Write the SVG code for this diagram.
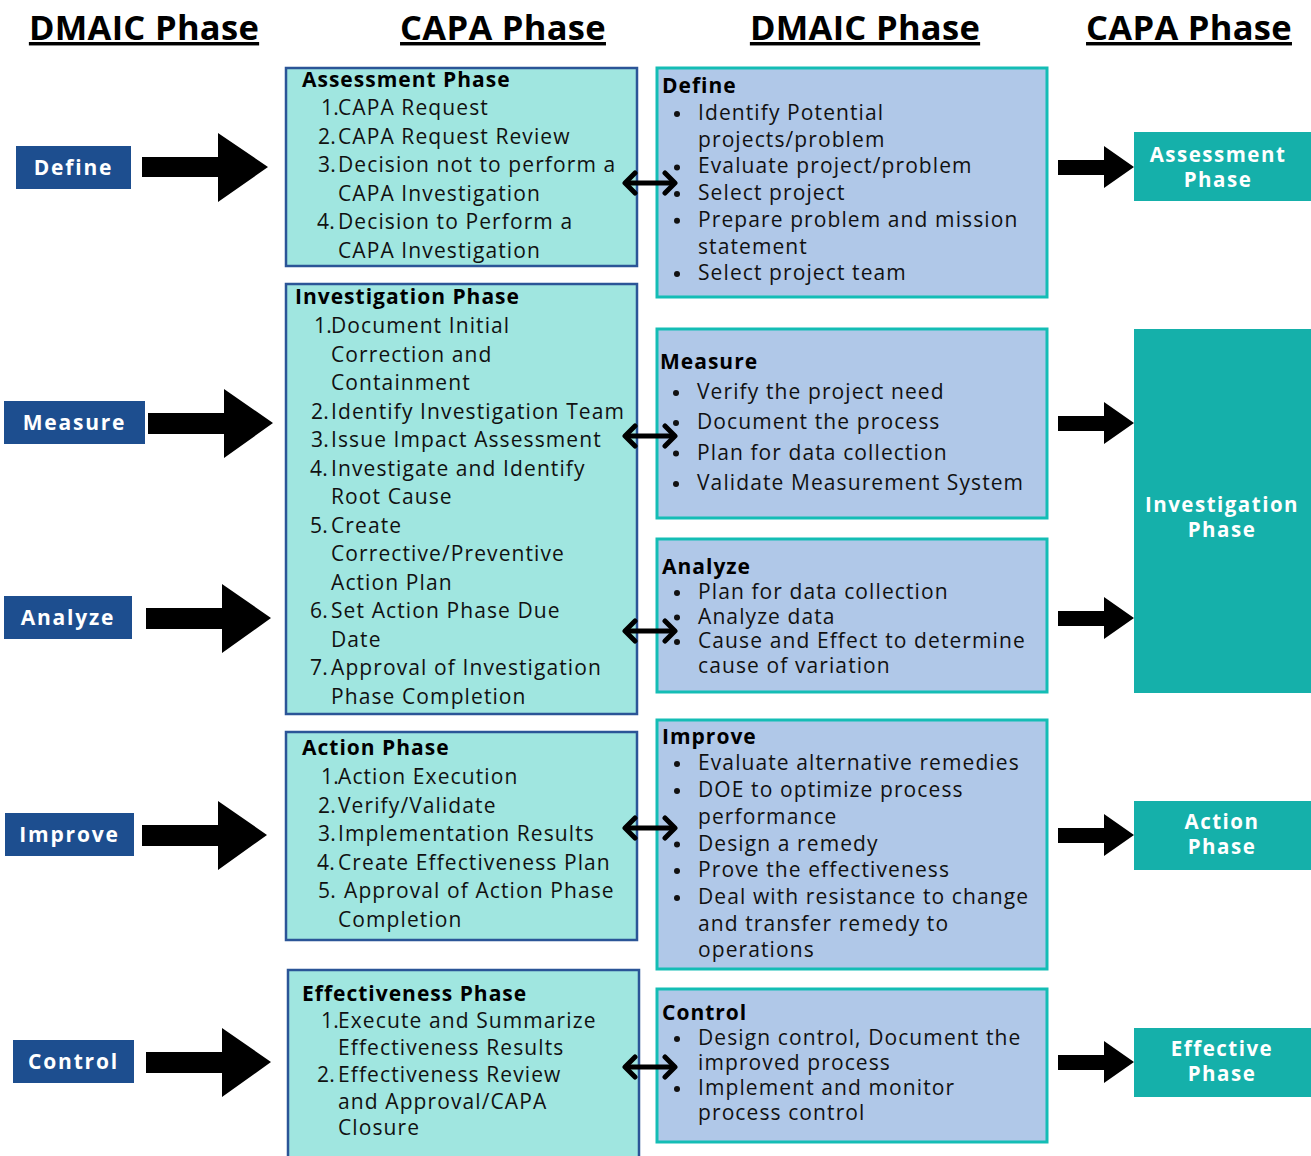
<svg xmlns="http://www.w3.org/2000/svg" width="1311" height="1156" viewBox="0 0 1311 1156">
<defs>
<style>
text{font-family:"Open Sans","Noto Sans","Liberation Sans",sans-serif;}
.hdr{font-size:34.5px;font-weight:bold;fill:#000;text-decoration:underline;text-anchor:middle;letter-spacing:0.3px;}
.lbl{fill:#1d4e8f;}
.lbltx{font-size:21px;font-weight:bold;fill:#fff;text-anchor:middle;letter-spacing:1.8px;}
.capa{fill:#a0e6e0;stroke:#2b5597;stroke-width:2.5;}
.dmaic{fill:#b0c8e8;stroke:#14bdb5;stroke-width:3;}
.out{fill:#15b0aa;}
.outtx{font-size:20.5px;font-weight:bold;fill:#fff;text-anchor:middle;letter-spacing:1.5px;}
.body{font-size:21px;fill:#111;letter-spacing:1.1px;}
.num{font-size:21px;fill:#111;letter-spacing:0.3px;}
.ttl{font-size:21px;font-weight:bold;fill:#000;letter-spacing:1px;}
.bul{fill:#111;}
.big{fill:#000;}
.dbl{stroke:#000;stroke-width:5;fill:none;marker-start:url(#chev);marker-end:url(#chev);}
</style>
<marker id="chev" viewBox="0 0 16 26" refX="13" refY="13" markerUnits="userSpaceOnUse" markerWidth="16" markerHeight="26" orient="auto-start-reverse">
<path d="M3,3 L13,13 L3,23" fill="none" stroke="#000" stroke-width="5" stroke-linecap="round" stroke-linejoin="round"/>
</marker>
</defs>
<rect width="1311" height="1156" fill="#fff"/>

<g id="headers">
<text class="hdr" x="144" y="40">DMAIC Phase</text>
<text class="hdr" x="503" y="40">CAPA Phase</text>
<text class="hdr" x="865" y="40">DMAIC Phase</text>
<text class="hdr" x="1189" y="40">CAPA Phase</text>
</g>

<g id="dmaic-define-label"><rect class="lbl" x="16" y="146" width="115" height="43"/><text class="lbltx" x="73.5" y="175">Define</text></g>
<g id="dmaic-measure-label"><rect class="lbl" x="4" y="401" width="141" height="43"/><text class="lbltx" x="74.5" y="430">Measure</text></g>
<g id="dmaic-analyze-label"><rect class="lbl" x="4" y="596" width="128" height="43"/><text class="lbltx" x="68" y="625">Analyze</text></g>
<g id="dmaic-improve-label"><rect class="lbl" x="5" y="813" width="129" height="43"/><text class="lbltx" x="69.5" y="842">Improve</text></g>
<g id="dmaic-control-label"><rect class="lbl" x="13" y="1040" width="121" height="43"/><text class="lbltx" x="73.5" y="1069">Control</text></g>

<g id="capa-assessment">
<rect class="capa" x="286" y="68" width="351" height="198"/>
<text class="ttl" x="302" y="87">Assessment Phase</text>
<text class="num"><tspan x="321" y="115">1.</tspan><tspan x="318" y="143.5">2.</tspan><tspan x="318" y="172">3.</tspan><tspan x="317" y="229">4.</tspan></text>
<text class="body">
<tspan x="338" y="115">CAPA Request</tspan>
<tspan x="338" y="143.5">CAPA Request Review</tspan>
<tspan x="338" y="172">Decision not to perform a</tspan>
<tspan x="338" y="200.5">CAPA Investigation</tspan>
<tspan x="338" y="229">Decision to Perform a</tspan>
<tspan x="338" y="257.5">CAPA Investigation</tspan>
</text>
</g>

<g id="capa-investigation">
<rect class="capa" x="286" y="284" width="351" height="430"/>
<text class="ttl" x="295" y="304">Investigation Phase</text>
<text class="num"><tspan x="314" y="333">1.</tspan><tspan x="311" y="418.5">2.</tspan><tspan x="311" y="447">3.</tspan><tspan x="310" y="475.5">4.</tspan><tspan x="310" y="532.5">5.</tspan><tspan x="310" y="618">6.</tspan><tspan x="310" y="675">7.</tspan></text>
<text class="body">
<tspan x="331" y="333">Document Initial</tspan>
<tspan x="331" y="361.5">Correction and</tspan>
<tspan x="331" y="390">Containment</tspan>
<tspan x="331" y="418.5">Identify Investigation Team</tspan>
<tspan x="331" y="447">Issue Impact Assessment</tspan>
<tspan x="331" y="475.5">Investigate and Identify</tspan>
<tspan x="331" y="504">Root Cause</tspan>
<tspan x="331" y="532.5">Create</tspan>
<tspan x="331" y="561">Corrective/Preventive</tspan>
<tspan x="331" y="589.5">Action Plan</tspan>
<tspan x="331" y="618">Set Action Phase Due</tspan>
<tspan x="331" y="646.5">Date</tspan>
<tspan x="331" y="675">Approval of Investigation</tspan>
<tspan x="331" y="703.5">Phase Completion</tspan>
</text>
</g>

<g id="capa-action">
<rect class="capa" x="286" y="732" width="351" height="208"/>
<text class="ttl" x="302" y="755">Action Phase</text>
<text class="num"><tspan x="321" y="784">1.</tspan><tspan x="318" y="812.5">2.</tspan><tspan x="318" y="841">3.</tspan><tspan x="317" y="869.5">4.</tspan><tspan x="318" y="898">5.</tspan></text>
<text class="body">
<tspan x="338" y="784">Action Execution</tspan>
<tspan x="338" y="812.5">Verify/Validate</tspan>
<tspan x="338" y="841">Implementation Results</tspan>
<tspan x="338" y="869.5">Create Effectiveness Plan</tspan>
<tspan x="344" y="898">Approval of Action Phase</tspan>
<tspan x="338" y="926.5">Completion</tspan>
</text>
</g>

<g id="capa-effectiveness">
<rect class="capa" x="288" y="970" width="351" height="200"/>
<text class="ttl" x="302" y="1001">Effectiveness Phase</text>
<text class="num"><tspan x="321" y="1028">1.</tspan><tspan x="317" y="1081.5">2.</tspan></text>
<text class="body">
<tspan x="338" y="1028">Execute and Summarize</tspan>
<tspan x="338" y="1055">Effectiveness Results</tspan>
<tspan x="338" y="1081.5">Effectiveness Review</tspan>
<tspan x="338" y="1108.5">and Approval/CAPA</tspan>
<tspan x="338" y="1135">Closure</tspan>
</text>
</g>

<g id="dmaic-define">
<rect class="dmaic" x="657" y="68" width="390" height="229"/>
<text class="ttl" x="662" y="93">Define</text>
<text class="body">
<tspan x="698" y="120">Identify Potential</tspan>
<tspan x="698" y="146.7">projects/problem</tspan>
<tspan x="698" y="173.4">Evaluate project/problem</tspan>
<tspan x="698" y="200">Select project</tspan>
<tspan x="698" y="226.8">Prepare problem and mission</tspan>
<tspan x="698" y="253.5">statement</tspan>
<tspan x="698" y="280">Select project team</tspan>
</text>
<g class="bul"><circle cx="677" cy="114" r="3"/><circle cx="677" cy="167.4" r="3"/><circle cx="677" cy="194" r="3"/><circle cx="677" cy="220.8" r="3"/><circle cx="677" cy="274" r="3"/></g>
</g>

<g id="dmaic-measure">
<rect class="dmaic" x="657" y="329" width="390" height="189"/>
<text class="ttl" x="660" y="369">Measure</text>
<text class="body">
<tspan x="697" y="399">Verify the project need</tspan>
<tspan x="697" y="429">Document the process</tspan>
<tspan x="697" y="459.5">Plan for data collection</tspan>
<tspan x="697" y="490">Validate Measurement System</tspan>
</text>
<g class="bul"><circle cx="676" cy="393" r="3"/><circle cx="676" cy="423" r="3"/><circle cx="676" cy="453.5" r="3"/><circle cx="676" cy="484" r="3"/></g>
</g>

<g id="dmaic-analyze">
<rect class="dmaic" x="657" y="539" width="390" height="153"/>
<text class="ttl" x="662" y="574">Analyze</text>
<text class="body">
<tspan x="698" y="599">Plan for data collection</tspan>
<tspan x="698" y="623.5">Analyze data</tspan>
<tspan x="698" y="648">Cause and Effect to determine</tspan>
<tspan x="698" y="673">cause of variation</tspan>
</text>
<g class="bul"><circle cx="677" cy="593" r="3"/><circle cx="677" cy="617.5" r="3"/><circle cx="677" cy="642" r="3"/></g>
</g>

<g id="dmaic-improve">
<rect class="dmaic" x="657" y="720" width="390" height="249"/>
<text class="ttl" x="662" y="744">Improve</text>
<text class="body">
<tspan x="698" y="770">Evaluate alternative remedies</tspan>
<tspan x="698" y="797">DOE to optimize process</tspan>
<tspan x="698" y="824">performance</tspan>
<tspan x="698" y="850.5">Design a remedy</tspan>
<tspan x="698" y="877">Prove the effectiveness</tspan>
<tspan x="698" y="904">Deal with resistance to change</tspan>
<tspan x="698" y="930.5">and transfer remedy to</tspan>
<tspan x="698" y="957">operations</tspan>
</text>
<g class="bul"><circle cx="677" cy="764" r="3"/><circle cx="677" cy="791" r="3"/><circle cx="677" cy="844.5" r="3"/><circle cx="677" cy="871" r="3"/><circle cx="677" cy="898" r="3"/></g>
</g>

<g id="dmaic-control">
<rect class="dmaic" x="657" y="989" width="390" height="153"/>
<text class="ttl" x="662" y="1020">Control</text>
<text class="body">
<tspan x="698" y="1045">Design control, Document the</tspan>
<tspan x="698" y="1070">improved process</tspan>
<tspan x="698" y="1095">Implement and monitor</tspan>
<tspan x="698" y="1120">process control</tspan>
</text>
<g class="bul"><circle cx="677" cy="1039" r="3"/><circle cx="677" cy="1089" r="3"/></g>
</g>

<g id="capa-out-assessment"><rect class="out" x="1134" y="132" width="177" height="69"/><text class="outtx" x="1218" y="162">Assessment</text><text class="outtx" x="1218" y="187">Phase</text></g>
<g id="capa-out-investigation"><rect class="out" x="1134" y="329" width="177" height="364"/><text class="outtx" x="1222" y="512">Investigation</text><text class="outtx" x="1222" y="537">Phase</text></g>
<g id="capa-out-action"><rect class="out" x="1134" y="801" width="177" height="69"/><text class="outtx" x="1222" y="829">Action</text><text class="outtx" x="1222" y="854">Phase</text></g>
<g id="capa-out-effective"><rect class="out" x="1134" y="1028" width="177" height="69"/><text class="outtx" x="1222" y="1056">Effective</text><text class="outtx" x="1222" y="1081">Phase</text></g>

<g id="connectors">
<polygon class="big" points="142,157 218,157 218,133 268,167 218,202 218,177 142,177"/>
<polygon class="big" points="148,413 224,413 224,389 273,423 224,458 224,434 148,434"/>
<polygon class="big" points="146,608 222,608 222,584 271,618 222,653 222,629 146,629"/>
<polygon class="big" points="142,825 218,825 218,801 267,835 218,870 218,846 142,846"/>
<polygon class="big" points="146,1052 222,1052 222,1028 271,1062 222,1097 222,1073 146,1073"/>

<polygon class="big" points="1058,160 1104,160 1104,146 1134,167 1104,188 1104,175 1058,175"/>
<polygon class="big" points="1058,416 1104,416 1104,402 1134,423 1104,444 1104,431 1058,431"/>
<polygon class="big" points="1058,611 1104,611 1104,597 1134,618 1104,639 1104,626 1058,626"/>
<polygon class="big" points="1058,828 1104,828 1104,814 1134,835 1104,856 1104,843 1058,843"/>
<polygon class="big" points="1058,1055 1104,1055 1104,1041 1134,1062 1104,1083 1104,1070 1058,1070"/>

<line class="dbl" x1="625" y1="183" x2="675" y2="183"/>
<line class="dbl" x1="625" y1="436" x2="675" y2="436"/>
<line class="dbl" x1="625" y1="631" x2="675" y2="631"/>
<line class="dbl" x1="625" y1="828" x2="675" y2="828"/>
<line class="dbl" x1="625" y1="1067" x2="675" y2="1067"/>
</g>
</svg>
